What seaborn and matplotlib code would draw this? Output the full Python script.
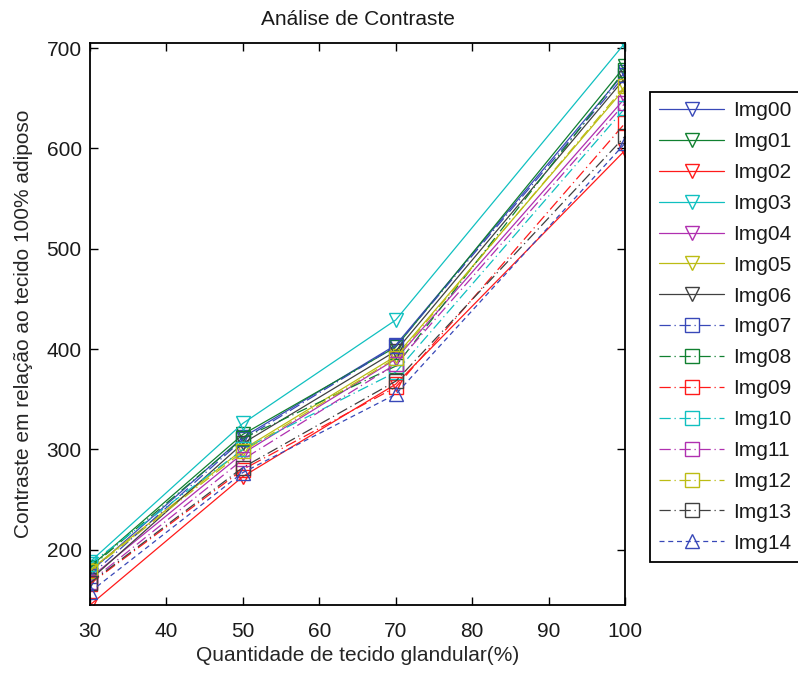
import matplotlib
matplotlib.use('Agg')
import matplotlib.pyplot as plt
import seaborn as sns

# tissue percentage on the x axis
glandular_pct = [30, 50, 70, 100]

image_names = ['Img00', 'Img01', 'Img02', 'Img03', 'Img04', 'Img05', 'Img06',
               'Img07', 'Img08', 'Img09', 'Img10', 'Img11', 'Img12', 'Img13',
               'Img14']

# contrast relative to 100% adipose tissue
contrast_values = [
    [178, 312, 404, 676],  # Img00
    [183, 315, 402, 682],  # Img01
    [145, 273, 365, 598],  # Img02
    [188, 326, 429, 705],  # Img03
    [172, 296, 390, 650],  # Img04
    [180, 300, 393, 660],  # Img05
    [170, 306, 398, 670],  # Img06
    [174, 310, 403, 673],  # Img07
    [182, 311, 383, 678],  # Img08
    [166, 280, 362, 625],  # Img09
    [186, 300, 377, 640],  # Img10
    [168, 290, 385, 645],  # Img11
    [179, 298, 391, 662],  # Img12
    [167, 282, 368, 612],  # Img13
    [158, 277, 355, 605],  # Img14
]

# old MATLAB colour order
colors = ['#3848b8', '#108030', '#ff1a1a', '#10c0c0', '#b030b0', '#bcbc14', '#404040']

sns.set_style('ticks')
plt.rcParams['font.family'] = ['Liberation Sans', 'DejaVu Sans']
plt.rcParams['font.size'] = 15
plt.rcParams['xtick.direction'] = 'in'
plt.rcParams['ytick.direction'] = 'in'
plt.rcParams['xtick.top'] = True
plt.rcParams['ytick.right'] = True
plt.rcParams['text.color'] = '#1a1a1a'

fig = plt.figure(figsize=(7.98, 6.75), dpi=100)
ax = fig.add_axes([0.1128, 0.1037, 0.6704, 0.8326])

for i, (name, vals) in enumerate(zip(image_names, contrast_values)):
    c = colors[i % 7]
    if i < 7:
        marker, ls = 'v', '-'
    elif i < 14:
        marker, ls = 's', (0, (9, 3, 1, 3))
    else:
        marker, ls = '^', (0, (4, 3))
    sns.lineplot(x=glandular_pct, y=vals, ax=ax, color=c, linestyle=ls,
                 marker=marker, markersize=10, markerfacecolor='none',
                 markeredgecolor=c, markeredgewidth=1.0, linewidth=0.9,
                 errorbar=None, label=name)

all_vals = [v for vals in contrast_values for v in vals]
ax.set_xlim(min(glandular_pct), max(glandular_pct))
ax.set_ylim(min(all_vals), max(all_vals))
ax.set_xticks([30, 40, 50, 60, 70, 80, 90, 100])
ax.set_yticks([200, 300, 400, 500, 600, 700])

for sp in ax.spines.values():
    sp.set_visible(True)
    sp.set_color('black')
    sp.set_linewidth(1.3)
ax.tick_params(length=6, width=1.0, colors='black', labelsize=15)
ax.tick_params(labelcolor='#1a1a1a')
ax.tick_params(axis='x', pad=12)
ax.tick_params(axis='y', pad=6)

ax.set_title('Análise de Contraste', fontsize=15, pad=13)
ax.set_xlabel('Quantidade de tecido glandular(%)', fontsize=15, labelpad=4)
ax.set_ylabel('Contraste em relação ao tecido 100% adiposo', fontsize=15, labelpad=10)

handles, labels = ax.get_legend_handles_labels()
leg = ax.legend(handles, labels, loc='upper left',
                bbox_to_anchor=(650 / 798, (675 - 92) / 675),
                bbox_transform=fig.transFigure, borderaxespad=0,
                fontsize=15, numpoints=1, handlelength=3.1, handletextpad=0.45,
                labelspacing=0.57, borderpad=0.45, fancybox=False,
                frameon=True)
leg.get_frame().set_edgecolor('black')
leg.get_frame().set_linewidth(1.3)
leg.get_frame().set_alpha(1)

fig.savefig('out.png', dpi=100)
